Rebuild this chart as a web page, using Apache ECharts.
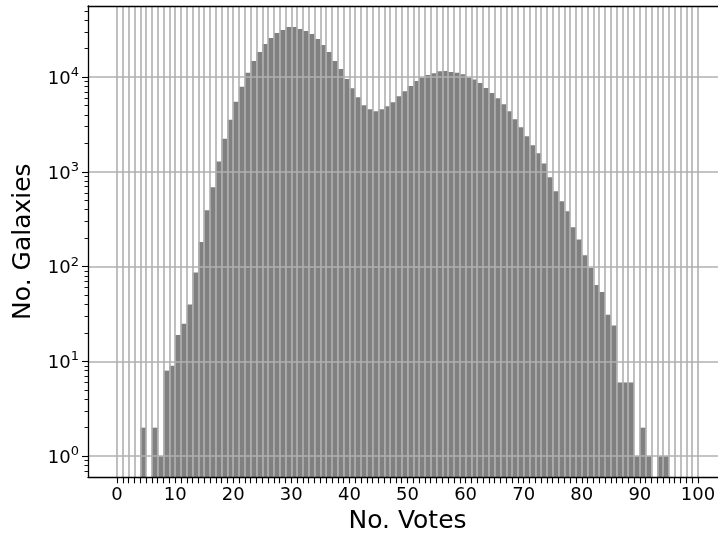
<!DOCTYPE html>
<html>
<head>
<meta charset="utf-8">
<script src="https://cdn.jsdelivr.net/npm/echarts@6/dist/echarts.min.js"></script>
<style>
  html, body { margin: 0; padding: 0; background: #fff; }
  #chart { width: 718px; height: 541px; }
</style>
</head>
<body>
<div id="chart"></div>
<script>
// Histogram bins: left edge of each 1-vote bin
const binStarts = [4,5,6,7,8,9,10,11,12,13,14,15,16,17,18,19,20,21,22,23,24,25,26,27,28,29,30,31,32,33,34,35,36,37,38,39,40,41,42,43,44,45,46,47,48,49,50,51,52,53,54,55,56,57,58,59,60,61,62,63,64,65,66,67,68,69,70,71,72,73,74,75,76,77,78,79,80,81,82,83,84,85,86,87,88,89,90,91,92,93,94];
// Galaxy counts per bin (0 = empty bin)
const counts = [2,0,2,1,8,9,19,25,40,87,182,394,689,1285,2240,3556,5500,7900,11100,14800,18400,22300,25800,29200,31400,33800,33800,32100,30600,28500,25200,21800,18400,14800,12200,9550,7630,6130,5050,4580,4360,4580,4920,5420,6270,7080,8050,9100,9900,10560,11000,11500,11600,11350,11150,10750,9900,9420,8690,7700,6800,5990,5170,4360,3590,2960,2380,1910,1570,1230,878,624,490,384,260,194,132,97,64,54,31,24,6,6,6,1,2,1,0,1,1];
// Tick values
const xTickValues = [];
for (let i = 0; i <= 100; i++) xTickValues.push(i);
const xLabelValues = [0,10,20,30,40,50,60,70,80,90,100];
const yMajorTicks = [1,10,100,1000,10000];
const yMinorTicks = [0.7,0.8,0.9,2,3,4,5,6,7,8,9,20,30,40,50,60,70,80,90,200,300,400,500,600,700,800,900,2000,3000,4000,5000,6000,7000,8000,9000,20000,30000,40000,50000];

const data = [];
for (let i = 0; i < binStarts.length; i++) {
  if (counts[i] > 0) data.push([binStarts[i], counts[i]]);
}

const FONT = 'DejaVu Sans';
const grid = '#b0b0b0';
const chart = echarts.init(document.getElementById('chart'), null, {renderer: 'canvas'});
const Y_MIN = 0.599, Y_MAX = 56300;

chart.setOption({
  animation: false,
  backgroundColor: '#ffffff',
  grid: { left: 88, top: 6, width: 639, bottom: 63.7, containLabel: false, outerBoundsMode: 'none' },
  xAxis: [{
    type: 'value', min: -5, max: 105, z: 3,
    name: 'No. Votes', nameLocation: 'middle', nameGap: 31,
    nameTextStyle: { fontFamily: FONT, fontSize: 25, color: '#000' },
    axisLine: { show: true, onZero: false, lineStyle: { color: '#000', width: 1.3 } },
    axisTick: { show: true, length: 6, customValues: xTickValues, lineStyle: { color: '#000', width: 1.1 } },
    axisLabel: { show: true, customValues: xLabelValues, margin: 9, fontFamily: FONT, fontSize: 18, color: '#000' },
    splitLine: { show: true, lineStyle: { color: grid, width: 1.6 } }
  }, {
    type: 'value', min: -5, max: 105, position: 'top', z: 4,
    axisLine: { show: true, onZero: false, lineStyle: { color: '#000', width: 1.3 } },
    axisTick: { show: false }, axisLabel: { show: false }, splitLine: { show: false }
  }],
  yAxis: [{
    type: 'log', logBase: 10, min: Y_MIN, max: Y_MAX, z: 3,
    name: 'No. Galaxies', nameLocation: 'middle', nameGap: 52,
    nameTextStyle: { fontFamily: FONT, fontSize: 25, color: '#000' },
    axisLine: { show: true, onZero: false, lineStyle: { color: '#000', width: 1.3 } },
    axisTick: { show: true, length: 6, customValues: yMajorTicks, lineStyle: { color: '#000', width: 1.1 } },
    axisLabel: {
      show: true, customValues: yMajorTicks, margin: 9, color: '#000',
      formatter: function (v) {
        const e = Math.round(Math.log10(v));
        return '{b|10}{s|' + e + '}';
      },
      rich: {
        b: { fontFamily: FONT, fontSize: 18, color: '#000', lineHeight: 22, verticalAlign: 'bottom' },
        s: { fontFamily: FONT, fontSize: 13, color: '#000', lineHeight: 13, verticalAlign: 'top' }
      }
    },
    splitLine: { show: true, lineStyle: { color: grid, width: 1.6 } }
  }, {
    type: 'log', logBase: 10, min: Y_MIN, max: Y_MAX, position: 'left', offset: 0, z: 3,
    axisLine: { show: false, onZero: false },
    axisTick: { show: true, length: 3.5, customValues: yMinorTicks, lineStyle: { color: '#000', width: 0.9 } },
    axisLabel: { show: false }, splitLine: { show: false }
  }],
  series: [{
    type: 'custom', xAxisIndex: 0, yAxisIndex: 0, z: 2,
    encode: { x: 0, y: 1 },
    data: data,
    renderItem: function (params, api) {
      const k = api.value(0), v = api.value(1);
      const p1 = api.coord([k, v]);
      const p2 = api.coord([k + 1, v]);
      const cs = params.coordSys;
      const bottom = cs.y + cs.height;
      return {
        type: 'rect',
        shape: { x: p1[0], y: p1[1], width: p2[0] - p1[0], height: bottom - p1[1] },
        style: { fill: '#808080' }
      };
    }
  }]
});
</script>
</body>
</html>
